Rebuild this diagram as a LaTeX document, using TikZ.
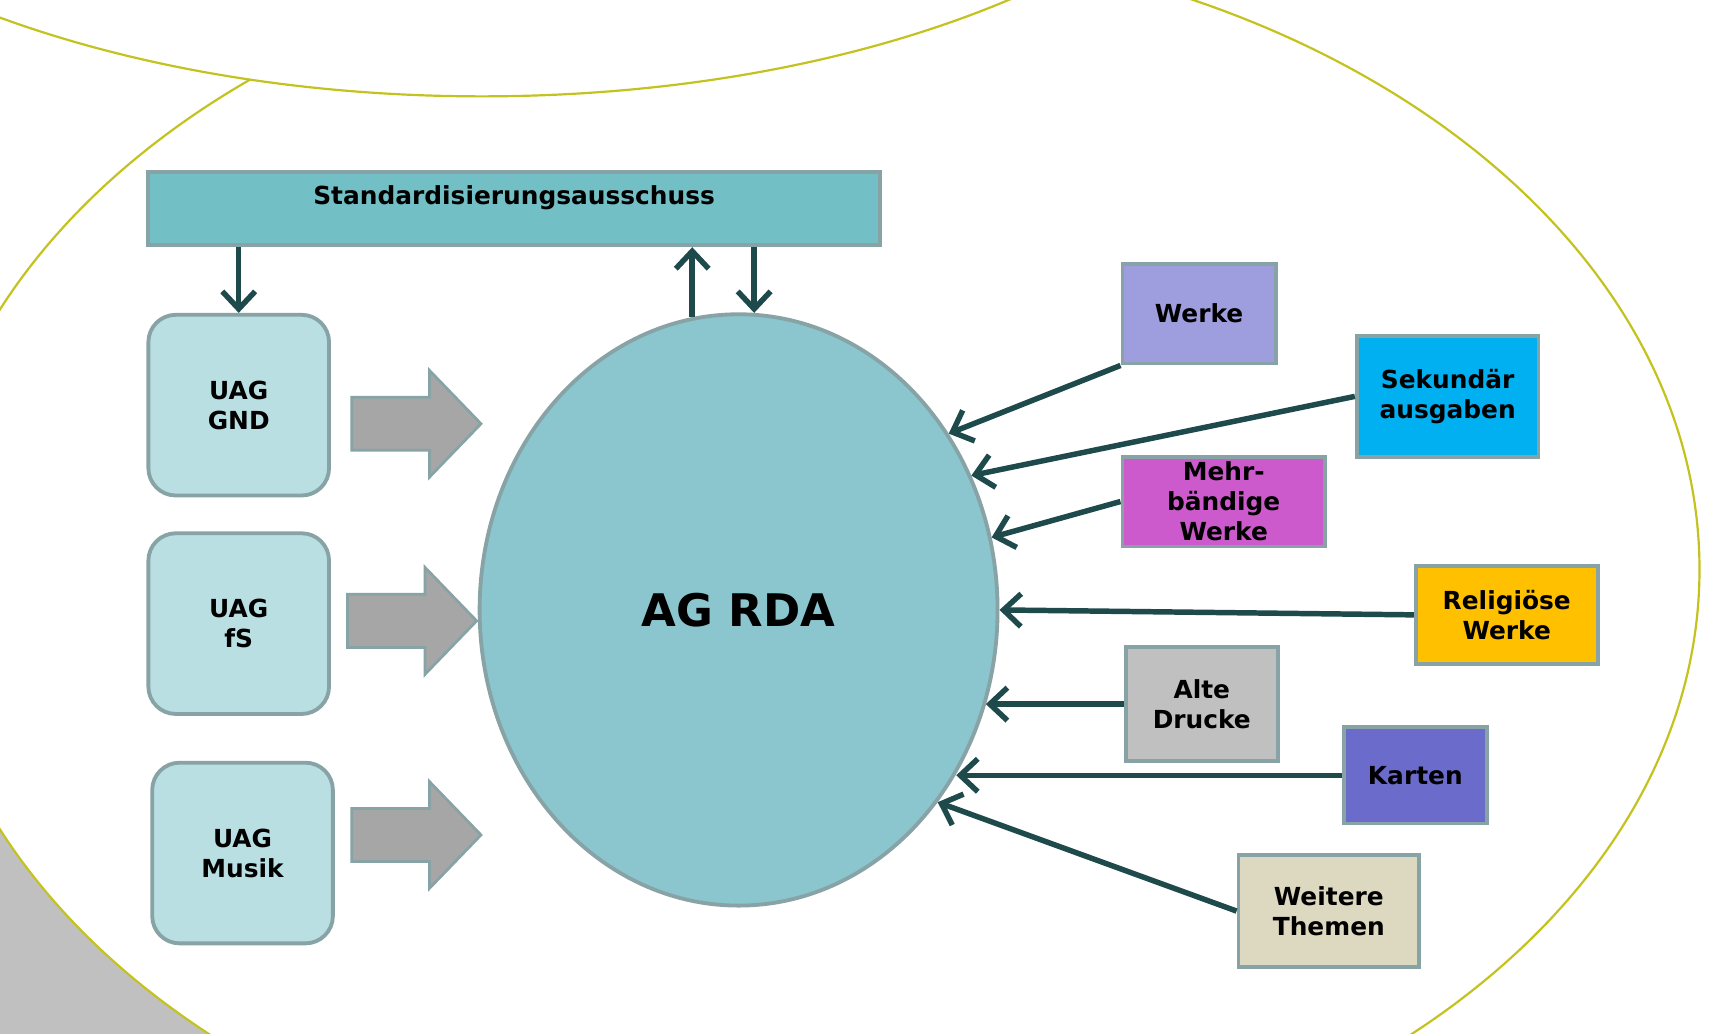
\documentclass[tikz,border=0pt]{standalone}
\usepackage{fontspec}
\setmainfont{DejaVu Sans}
\usetikzlibrary{shapes.geometric,shapes.arrows,arrows.meta}

\definecolor{olivlinie}{HTML}{C4C21E}
\definecolor{eckgrau}{HTML}{C0C0C0}
\definecolor{rahmen}{HTML}{87A3A6}
\definecolor{pfeildunkel}{HTML}{1E4A4C}
\definecolor{stafill}{HTML}{72BFC5}
\definecolor{uagfill}{HTML}{B9DFE3}
\definecolor{rdafill}{HTML}{8BC6CF}
\definecolor{blockgrau}{HTML}{A6A6A6}
\definecolor{werkefill}{HTML}{9E9EDE}
\definecolor{sekfill}{HTML}{00B0F0}
\definecolor{mehrfill}{HTML}{CC5ACC}
\definecolor{relfill}{HTML}{FFC000}
\definecolor{altefill}{HTML}{C0C0C0}
\definecolor{kartenfill}{HTML}{6B6BCB}
\definecolor{weiterfill}{HTML}{DDD8C0}

\begin{document}
\begin{tikzpicture}[x=1pt,y=1pt]
  \tikzstyle{every node}+=[inner sep=0pt, align=center, font=\fontsize{22.7}{27.5}\selectfont\bfseries]
  \tikzstyle{uag}=[draw=rahmen, line width=3.5pt, fill=uagfill, rounded corners=25pt, minimum width=165pt, minimum height=165pt]
  \tikzstyle{thema}=[draw=rahmen, line width=3.5pt]
  \tikzstyle{blockpfeil}=[single arrow, draw=rahmen, line width=2.5pt, fill=blockgrau, inner sep=23pt, minimum height=118pt, single arrow head extend=24.5pt, single arrow tip angle=92, anchor=tail]
  \tikzstyle{pfeil}=[draw=pfeildunkel, line width=5pt, -{Straight Barb[length=16pt,width=30pt]}]
  \useasboundingbox (0,0) rectangle (1568,-944);
  \clip (0,0) rectangle (1568,-944);
  \fill [eckgrau] (0,-750) rectangle (300,-944);
  \draw [olivlinie, line width=2pt, fill=white] (740,-520) ellipse [x radius=812, y radius=576];
  \draw [olivlinie, line width=2pt, fill=white] (440,296) ellipse [x radius=755, y radius=384];
  \node [draw=rahmen, line width=3.5pt, fill=stafill, minimum width=669pt, text height=30pt, text depth=37pt] (std) at (469.5,-190.5) {Standardisierungsausschuss};
  \node [uag] (gnd) at (218,-370) {UAG\\GND};
  \node [uag] (fs) at (218,-569.5) {UAG\\fS};
  \node [uag] (musik) at (221.5,-779) {UAG\\Musik};
  \node [ellipse, draw=rahmen, line width=3.5pt, fill=rdafill, minimum width=473pt, minimum height=540pt, font=\fontsize{41}{48}\selectfont\bfseries] (rda) at (674.5,-557) {AG RDA};
  \node [blockpfeil] (pfeilgnd) at (320,-387) {};
  \node [blockpfeil] (pfeilfs) at (316,-567) {};
  \node [blockpfeil] (pfeilmusik) at (320,-762.5) {};
  \node [thema, fill=werkefill, minimum width=140pt, minimum height=91pt] (werke) at (1095,-286.5) {Werke};
  \node [thema, fill=sekfill, minimum width=166pt, minimum height=110pt] (sek) at (1322,-362) {Sekundär\\ausgaben};
  \node [thema, fill=mehrfill, minimum width=185pt, minimum height=82pt] (mehr) at (1117.5,-458) {Mehr-\\bändige\\Werke};
  \node [thema, fill=relfill, minimum width=166pt, minimum height=89pt] (rel) at (1376,-561.5) {Religiöse\\Werke};
  \node [thema, fill=altefill, minimum width=139pt, minimum height=104pt] (alte) at (1097.5,-643) {Alte\\Drucke};
  \node [thema, fill=kartenfill, minimum width=131pt, minimum height=88pt] (karten) at (1292.5,-708) {Karten};
  \node [thema, fill=weiterfill, minimum width=165pt, minimum height=102pt] (weitere) at (1213.5,-832) {Weitere\\Themen};
  \draw [pfeil] (gnd.north |- std.south) -- (gnd.north);
  \draw [pfeil] (rda.99) -- (rda.99 |- std.south);
  \draw [pfeil] (rda.87 |- std.south) -- (rda.87);
  \draw [pfeil] (werke.south west) -- (rda.40);
  \draw [pfeil] (sek.west) -- (rda.30.5);
  \draw [pfeil] (mehr.west) -- (rda.16);
  \draw [pfeil] (rel.west) -- (rda.0);
  \draw [pfeil] (alte.west) -- (alte.west -| rda.-21);
  \draw [pfeil] (karten.west) -- (karten.west -| rda.-37.4);
  \draw [pfeil] (weitere.west) -- (rda.-44);
\end{tikzpicture}
\end{document}
